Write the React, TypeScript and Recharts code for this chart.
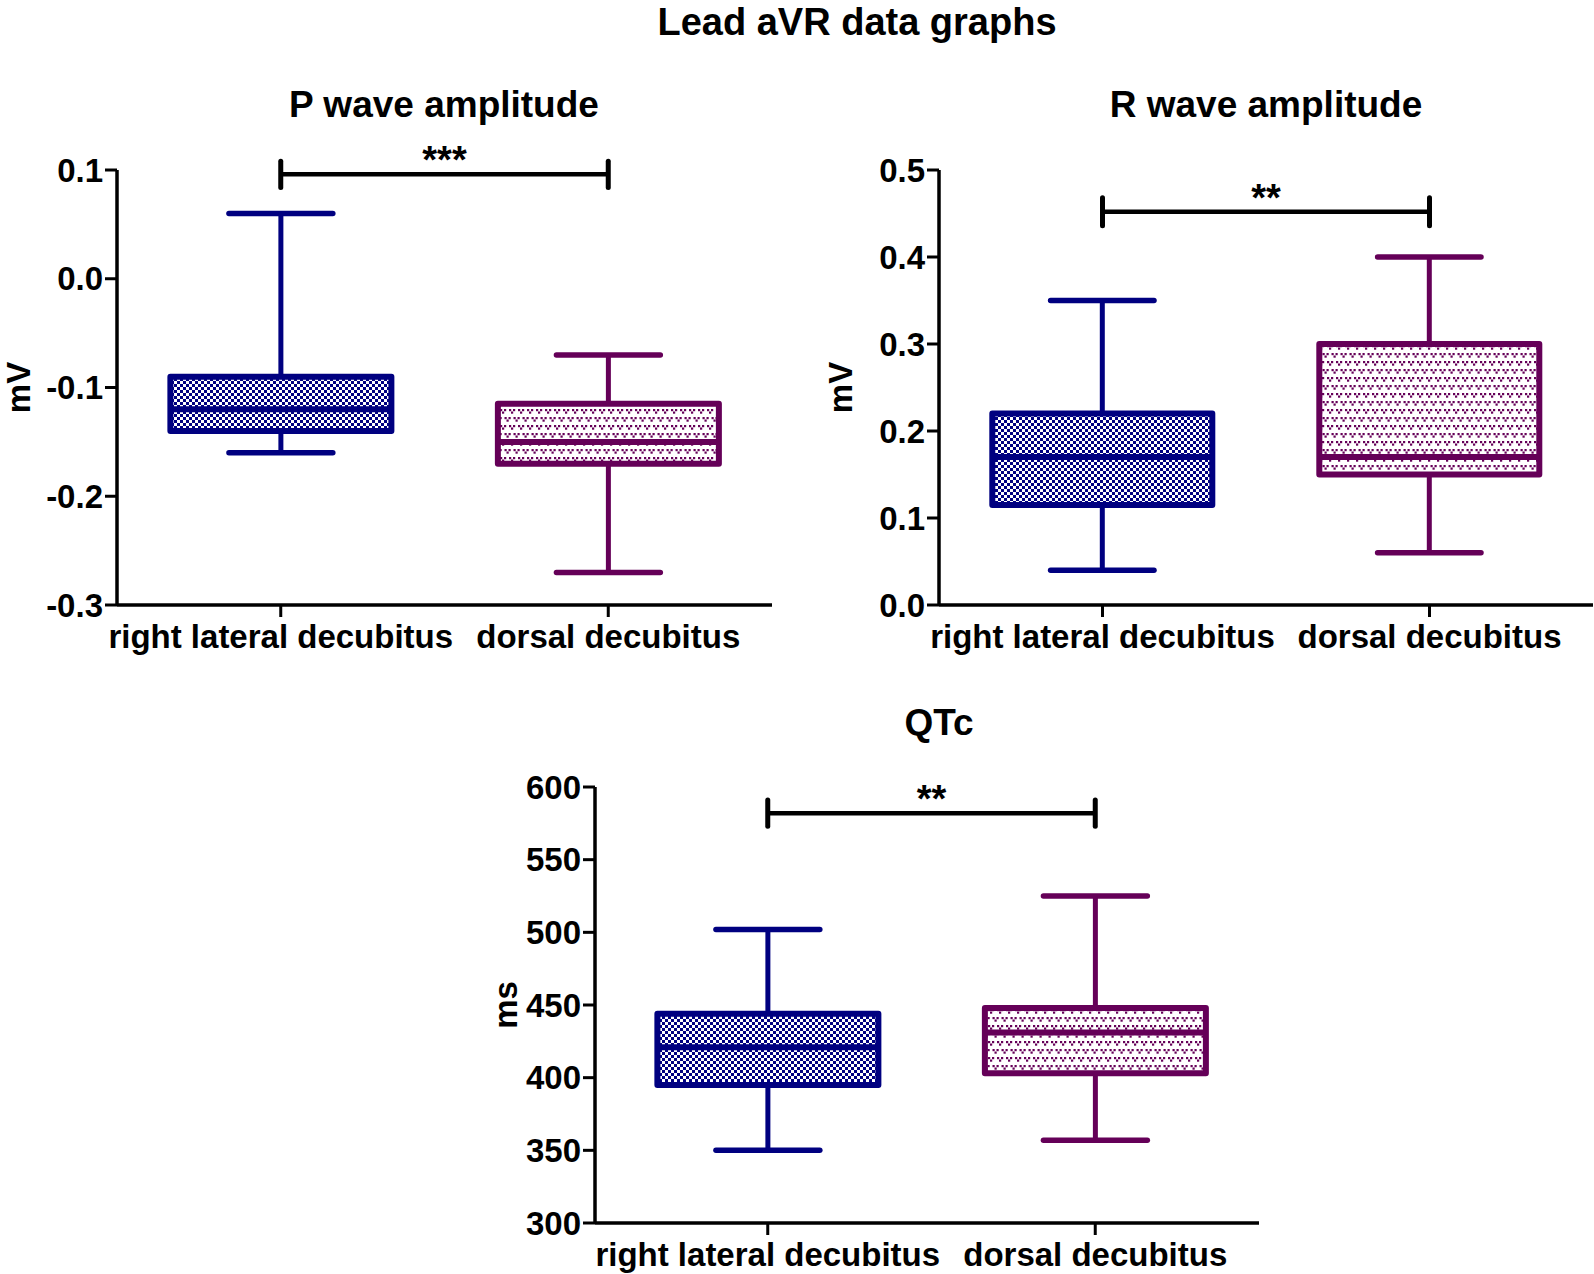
import React from 'react';
import { ComposedChart, Bar, XAxis, YAxis, ReferenceLine } from 'recharts';

const categories = ['right lateral decubitus', 'dorsal decubitus'];

// P wave amplitude (mV)
const pMin = [-0.16, -0.27];
const pQ1 = [-0.14, -0.17];
const pMedian = [-0.12, -0.15];
const pQ3 = [-0.09, -0.115];
const pMax = [0.06, -0.07];
const pTicks = [-0.3, -0.2, -0.1, 0, 0.1];

// R wave amplitude (mV)
const rMin = [0.04, 0.06];
const rQ1 = [0.115, 0.15];
const rMedian = [0.17, 0.17];
const rQ3 = [0.22, 0.3];
const rMax = [0.35, 0.4];
const rTicks = [0, 0.1, 0.2, 0.3, 0.4, 0.5];

// QTc (ms)
const qMin = [350, 357];
const qQ1 = [395, 403];
const qMedian = [421, 431];
const qQ3 = [444, 448];
const qMax = [502, 525];
const qTicks = [300, 350, 400, 450, 500, 550, 600];

const FONT = '"Liberation Sans", Arial, Helvetica, sans-serif';
const BLUE = '#000080';
const PURPLE = '#650058';

const buildRows = (mn: number[], q1: number[], md: number[], q3: number[], mx: number[]) =>
  categories.map((name, i) => ({
    name,
    range: [mn[i], mx[i]],
    min: mn[i],
    q1: q1[i],
    median: md[i],
    q3: q3[i],
    max: mx[i],
    idx: i,
  }));

const BoxShape = (props: any) => {
  const { x, y, width, height, payload, suffix } = props;
  const top = Math.min(y, y + height);
  const bot = Math.max(y, y + height);
  const lo = payload.min;
  const hi = payload.max;
  const toY = (v: number) => bot - ((bot - top) * (v - lo)) / (hi - lo);
  const cx = x + width / 2;
  const capHalf = width * 0.235;
  const color = payload.idx === 0 ? BLUE : PURPLE;
  const fill = payload.idx === 0 ? `url(#check-${suffix})` : `url(#dots-${suffix})`;
  const yQ1 = toY(payload.q1);
  const yQ3 = toY(payload.q3);
  const yMed = toY(payload.median);
  return (
    <g>
      <line x1={cx} x2={cx} y1={toY(hi)} y2={yQ3} stroke={color} strokeWidth={5} />
      <line x1={cx} x2={cx} y1={yQ1} y2={toY(lo)} stroke={color} strokeWidth={5} />
      <line x1={cx - capHalf} x2={cx + capHalf} y1={toY(hi)} y2={toY(hi)} stroke={color} strokeWidth={5.5} strokeLinecap="round" />
      <line x1={cx - capHalf} x2={cx + capHalf} y1={toY(lo)} y2={toY(lo)} stroke={color} strokeWidth={5.5} strokeLinecap="round" />
      <rect x={x} y={yQ3} width={width} height={yQ1 - yQ3} fill={fill} stroke={color} strokeWidth={6} strokeLinejoin="round" />
      <line x1={x} x2={x + width} y1={yMed} y2={yMed} stroke={color} strokeWidth={6} />
    </g>
  );
};

const Patterns = ({ suffix }: { suffix: string }) => (
  <defs>
    <pattern id={`check-${suffix}`} width={6} height={6} patternUnits="userSpaceOnUse">
      <rect width={6} height={6} fill="#fff" />
      <rect x={0} y={0} width={3} height={3} fill={BLUE} />
      <rect x={3} y={3} width={3} height={3} fill={BLUE} />
    </pattern>
    <pattern id={`dots-${suffix}`} width={9} height={16} patternUnits="userSpaceOnUse">
      <rect width={9} height={16} fill="#fff" />
      <rect x={0.5} y={1} width={2.2} height={2.2} fill={PURPLE} />
      <rect x={4.5} y={1} width={2.2} height={2.2} fill={PURPLE} />
      <rect x={2.5} y={3.5} width={2.2} height={2.2} fill={PURPLE} />
      <rect x={5} y={9} width={2.2} height={2.2} fill={PURPLE} />
      <rect x={9} y={9} width={2.2} height={2.2} fill={PURPLE} />
      <rect x={7} y={11.5} width={2.2} height={2.2} fill={PURPLE} />
      <rect x={0} y={9} width={2.2} height={2.2} fill={PURPLE} />
      <rect x={-2} y={11.5} width={2.2} height={2.2} fill={PURPLE} />
    </pattern>
  </defs>
);

const tickStyle = { fill: '#000', fontSize: 33, fontWeight: 700, fontFamily: FONT };
const xTickStyle = { fill: '#000', fontSize: 33, fontWeight: 700, fontFamily: FONT };

interface PanelProps {
  suffix: string;
  rows: any[];
  domain: [number, number];
  ticks: number[];
  fmt: (v: number) => string;
  unit: string;
  width: number;
  height: number;
  margin: { top: number; right: number; bottom: number; left: number };
  yAxisWidth: number;
  padLeft: number;
  unitOffset: number;
  sigY: number;
  sigCap: number;
  stars: string;
}

const BoxPanel = (p: PanelProps) => (
  <ComposedChart width={p.width} height={p.height} data={p.rows} margin={p.margin} barCategoryGap="16.3%">
    <Patterns suffix={p.suffix} />
    <XAxis
      dataKey="name"
      type="category"
      interval={0}
      tick={xTickStyle}
      tickSize={12}
      tickMargin={8}
      padding={{ left: p.padLeft, right: 0 }}
      axisLine={{ stroke: '#000', strokeWidth: 3.5 }}
      tickLine={{ stroke: '#000', strokeWidth: 3 }}
      height={50}
    />
    <YAxis
      type="number"
      domain={p.domain}
      ticks={p.ticks}
      tickFormatter={p.fmt}
      tick={tickStyle}
      tickSize={12}
      tickMargin={2}
      width={p.yAxisWidth}
      axisLine={{ stroke: '#000', strokeWidth: 3.5 }}
      tickLine={{ stroke: '#000', strokeWidth: 3 }}
      label={{
        value: p.unit,
        angle: -90,
        position: 'insideLeft',
        offset: p.unitOffset,
        style: { textAnchor: 'middle', fill: '#000', fontSize: 33, fontWeight: 700, fontFamily: FONT },
      }}
    />
    <Bar dataKey="range" isAnimationActive={false} shape={(props: any) => <BoxShape {...props} suffix={p.suffix} />} />
    <ReferenceLine
      segment={[{ x: categories[0], y: p.sigY }, { x: categories[1], y: p.sigY }]}
      ifOverflow="visible"
      stroke="#000"
      strokeWidth={4.5}
      label={{ value: p.stars, position: 'top', offset: 1, fill: '#000', fontSize: 38, fontWeight: 700, fontFamily: FONT }}
    />
    <ReferenceLine
      segment={[{ x: categories[0], y: p.sigY - p.sigCap }, { x: categories[0], y: p.sigY + p.sigCap }]}
      ifOverflow="visible"
      stroke="#000"
      strokeWidth={5}
      strokeLinecap="round"
    />
    <ReferenceLine
      segment={[{ x: categories[1], y: p.sigY - p.sigCap }, { x: categories[1], y: p.sigY + p.sigCap }]}
      ifOverflow="visible"
      stroke="#000"
      strokeWidth={5}
      strokeLinecap="round"
    />
  </ComposedChart>
);

const titleStyle = { fontFamily: FONT, fontWeight: 700, fill: '#000' } as const;

export default function App() {
  const pRows = buildRows(pMin, pQ1, pMedian, pQ3, pMax);
  const rRows = buildRows(rMin, rQ1, rMedian, rQ3, rMax);
  const qRows = buildRows(qMin, qQ1, qMedian, qQ3, qMax);

  return (
    <div style={{ position: 'absolute', left: 0, top: 0, width: 1594, height: 1274, background: '#fff', overflow: 'hidden' }}>
      <svg width={1594} height={1274} style={{ position: 'absolute', left: 0, top: 0 }}>
        <text x={857} y={35} textAnchor="middle" fontSize={38} {...titleStyle}>Lead aVR data graphs</text>
        <text x={444} y={117} textAnchor="middle" fontSize={37} {...titleStyle}>P wave amplitude</text>
        <text x={1266} y={117} textAnchor="middle" fontSize={37} {...titleStyle}>R wave amplitude</text>
        <text x={939} y={735} textAnchor="middle" fontSize={37} {...titleStyle}>QTc</text>
      </svg>

      <div style={{ position: 'absolute', left: 0, top: 0 }}>
        <BoxPanel
          suffix="p"
          rows={pRows}
          domain={[-0.3, 0.1]}
          ticks={pTicks}
          fmt={(v) => v.toFixed(1)}
          unit="mV"
          width={800}
          height={680}
          margin={{ top: 170, right: 28, bottom: 25, left: 0 }}
          yAxisWidth={117}
          padLeft={0}
          unitOffset={18}
          sigY={0.096}
          sigCap={0.012}
          stars="***"
        />
      </div>

      <div style={{ position: 'absolute', left: 800, top: 0 }}>
        <BoxPanel
          suffix="r"
          rows={rRows}
          domain={[0, 0.5]}
          ticks={rTicks}
          fmt={(v) => v.toFixed(1)}
          unit="mV"
          width={794}
          height={680}
          margin={{ top: 170, right: 1, bottom: 25, left: 0 }}
          yAxisWidth={139}
          padLeft={0}
          unitOffset={40}
          sigY={0.452}
          sigCap={0.016}
          stars="**"
        />
      </div>

      <div style={{ position: 'absolute', left: 470, top: 680 }}>
        <BoxPanel
          suffix="q"
          rows={qRows}
          domain={[300, 600]}
          ticks={qTicks}
          fmt={(v) => String(v)}
          unit="ms"
          width={800}
          height={594}
          margin={{ top: 107, right: 11, bottom: 1, left: 0 }}
          yAxisWidth={125}
          padLeft={9}
          unitOffset={35}
          sigY={582}
          sigCap={9}
          stars="**"
        />
      </div>
    </div>
  );
}
